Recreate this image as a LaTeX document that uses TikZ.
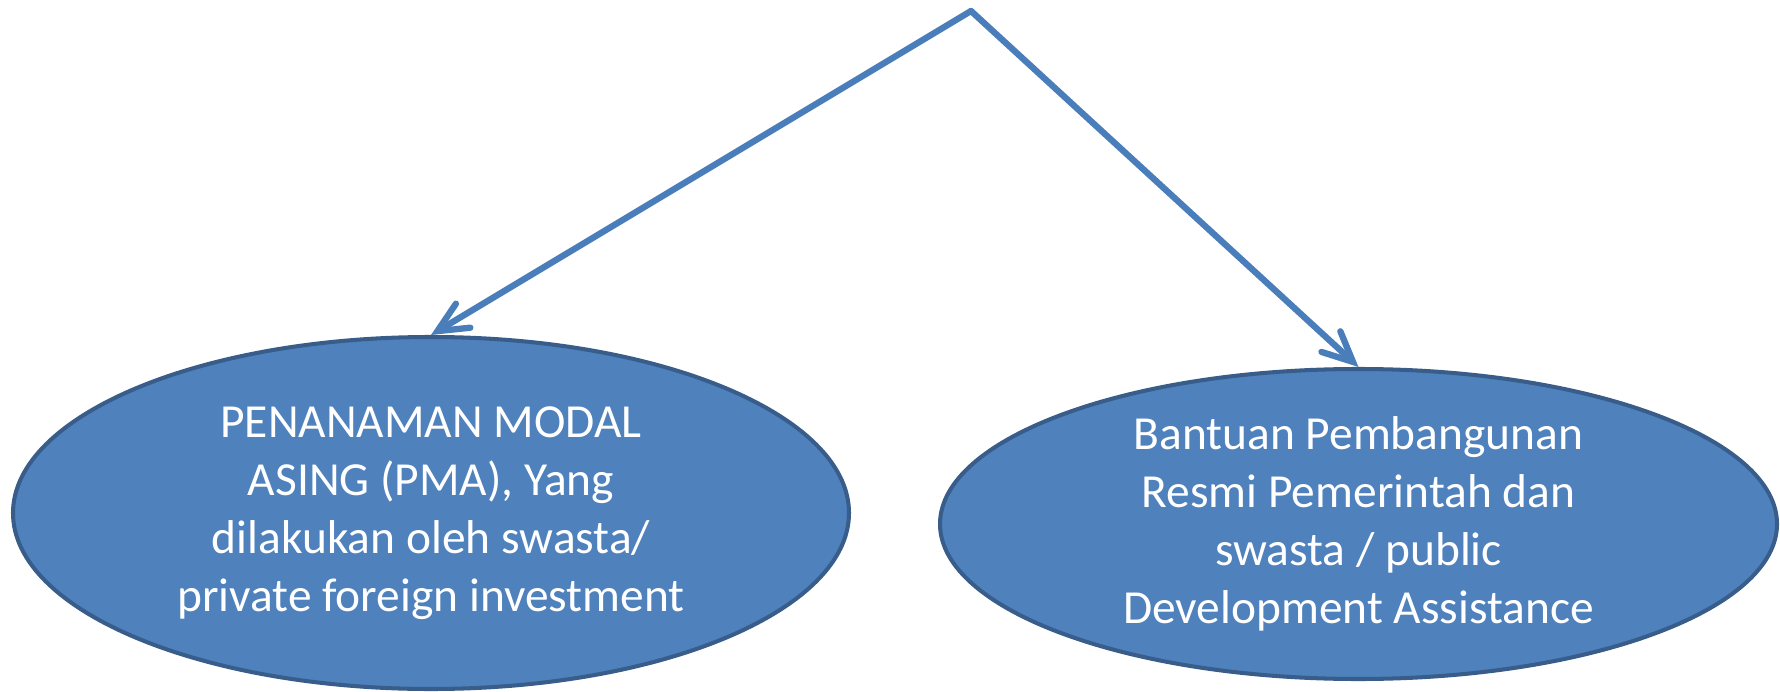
\documentclass[tikz,border=0pt]{standalone}
\usepackage{fontspec}
\setmainfont{Carlito}
\usetikzlibrary{shapes.geometric,arrows.meta}

\definecolor{ovalfill}{HTML}{4F81BD}
\definecolor{ovaledge}{HTML}{385D8A}
\definecolor{arrowblue}{HTML}{4A7EBB}

\tikzset{
  oval/.style={ellipse, fill=ovalfill, draw=ovaledge, line width=2.3pt,
    inner sep=0pt, text=white, align=center,
    font=\fontsize{27}{33}\selectfont},
  branch/.style={draw=arrowblue, line width=3.6pt, line cap=round,
    -{Straight Barb[length=0.6cm, width=0.56cm, line cap=round]}}
}

\begin{document}
\begin{tikzpicture}[scale=1]

\useasboundingbox (0,0) rectangle (35.6,13.82);

% Ovals
\node[oval, minimum width=16.72cm, minimum height=7.04cm] (pma) at (8.62,3.56)
  {PENANAMAN MODAL\\ASING (PMA), Yang\\dilakukan oleh swasta/\\private foreign investment};
\node[oval, minimum width=16.74cm, minimum height=6.2cm] (oda) at (27.17,3.34)
  {Bantuan Pembangunan\\Resmi Pemerintah dan\\swasta / public\\Development Assistance};

% Apex
\coordinate (top) at (19.42,13.6);

% Arrows
\draw[branch] (top) -- (pma.north);
\draw[branch] (top) -- (oda.north);

\end{tikzpicture}
\end{document}
